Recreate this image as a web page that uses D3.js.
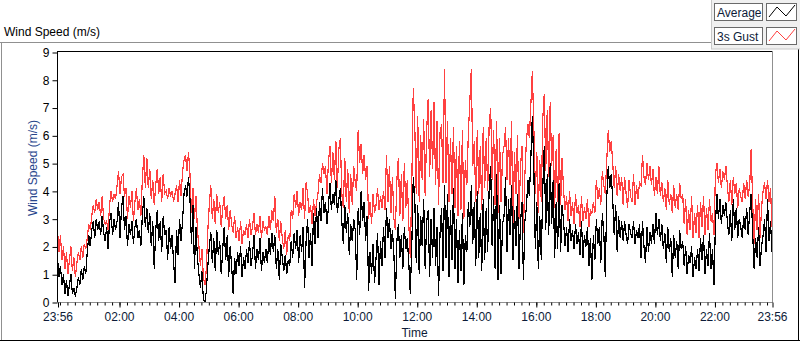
<!DOCTYPE html>
<html>
<head>
<meta charset="utf-8">
<script src="https://cdnjs.cloudflare.com/ajax/libs/d3/7.8.5/d3.min.js"></script>
<style>
body{margin:0;background:#ffffff;}
svg{display:block;font-family:"Liberation Sans",Arial,sans-serif;}
</style>
</head>
<body>
<div id="chart"></div>
<script>
// one reading every 3 minutes, starting 23:56 (one row = one hour)
var stepMinutes=3;

var average=[
1.6,0.9,1.3,0.6,1.0,0.3,0.8,0.2,0.6,1.0,0.3,0.5,0.2,0.5,0.9,0.6,1.2,0.8,1.3,1.0,
1.8,2.4,2.0,2.6,2.9,2.3,3.0,2.6,2.9,2.4,3.1,2.5,2.2,2.7,1.9,2.9,3.2,2.4,3.0,2.6,
2.9,3.6,2.3,3.4,3.8,2.6,3.1,2.0,2.8,2.4,2.9,2.1,2.7,3.0,2.3,2.6,2.0,3.1,3.8,2.7,
3.4,2.5,3.2,2.0,2.9,1.2,2.6,3.3,2.2,2.9,1.8,3.1,2.4,2.6,1.5,2.7,1.9,2.4,1.4,0.7,
2.6,1.7,3.0,2.2,2.9,3.9,4.2,3.8,4.5,3.7,2.1,3.5,1.2,2.7,1.6,1.0,0.5,1.1,0.1,0.0,
0.4,1.3,2.0,2.5,1.4,2.3,1.1,2.6,1.7,2.2,1.0,1.9,2.7,1.5,2.4,0.9,2.0,1.3,0.3,1.6,
1.0,1.8,1.3,2.0,0.9,1.6,1.2,1.9,1.4,2.2,1.3,1.7,2.4,1.2,1.9,1.5,2.3,1.1,1.8,1.4,
1.9,1.4,2.3,1.7,2.5,1.8,2.4,1.2,1.9,0.8,2.1,1.6,1.1,1.7,1.0,1.5,1.3,2.2,1.6,2.5,
1.9,2.6,1.4,2.4,1.8,2.7,0.5,2.2,3.0,1.6,2.5,1.3,3.2,2.1,3.4,2.3,3.6,2.9,4.1,3.2,
3.6,2.8,3.4,4.3,3.3,3.9,3.5,4.4,3.2,3.7,4.1,2.9,2.1,3.5,2.5,3.2,1.7,2.8,2.2,3.0,
2.6,0.8,3.4,2.4,4.0,2.9,3.6,2.2,3.1,0.4,1.8,1.0,2.1,0.7,1.6,2.5,0.6,2.2,1.3,2.7,
1.6,3.4,2.3,3.0,1.9,2.6,1.7,0.1,2.2,2.8,1.6,2.4,1.2,2.7,1.9,2.3,1.4,0.3,2.0,4.5,
3.8,1.4,3.5,1.0,3.1,2.0,3.7,1.2,2.9,3.3,0.9,3.0,1.6,3.4,1.3,2.7,0.2,2.5,3.4,1.1,
4.2,1.6,3.9,0.9,3.3,1.5,4.1,1.2,3.0,0.7,2.6,1.1,3.2,0.6,2.4,1.8,3.6,2.7,4.2,2.1,
3.6,1.3,4.0,1.6,3.2,1.1,3.7,1.5,3.4,1.8,4.1,4.9,2.0,3.8,1.2,4.6,0.8,3.5,1.0,2.8,
3.1,4.5,1.8,3.7,2.4,4.2,1.5,3.3,2.0,3.9,1.2,2.8,3.6,0.8,2.9,3.4,4.4,3.8,5.2,6.7,
4.8,1.9,3.6,1.2,3.1,1.5,4.1,5.6,2.6,4.6,2.4,5.0,2.8,4.4,1.6,3.6,1.9,4.3,1.8,3.5,
2.9,2.0,2.7,1.8,3.0,2.2,2.6,1.9,2.8,2.1,2.5,1.7,2.9,1.6,2.4,2.0,2.7,1.3,2.3,0.8,
2.4,1.5,3.0,2.1,2.7,1.4,3.2,2.5,0.9,3.8,4.9,4.1,4.6,3.7,2.4,3.5,1.8,3.1,2.3,2.9,
2.2,2.9,2.4,2.1,2.8,2.5,2.3,2.9,2.1,2.6,2.3,2.8,1.6,2.9,2.0,1.4,2.7,1.8,2.5,2.1,
2.8,2.1,3.2,2.4,3.0,2.2,2.8,1.9,2.5,1.4,2.7,1.8,2.3,0.9,2.4,1.6,2.2,1.2,2.6,1.9,
2.2,1.3,2.0,1.0,1.7,1.4,2.0,0.9,1.6,1.2,1.9,1.1,2.3,1.5,2.4,1.0,1.9,1.3,2.5,1.2,
1.9,0.6,2.8,3.9,3.0,3.7,2.8,3.5,3.1,3.6,2.9,2.4,3.3,2.2,3.7,2.6,3.4,2.3,3.0,2.7,
2.3,3.1,2.6,3.4,2.4,3.2,3.9,2.5,1.2,2.3,1.6,2.7,1.3,2.0,2.4,3.0,1.8,3.7,2.2,2.9,
1.8];

var gust=[
2.6,1.8,2.4,1.5,2.0,1.2,1.8,1.0,1.5,2.0,1.1,1.6,0.9,1.4,1.8,1.5,2.0,1.6,2.1,1.9,
2.3,2.8,2.6,3.1,3.5,3.2,3.7,3.3,3.6,3.1,3.8,3.0,2.8,2.9,2.6,3.5,4.0,3.6,3.9,3.7,
4.2,4.7,3.9,4.5,4.6,3.8,4.1,3.0,3.8,3.4,4.0,2.9,3.6,4.1,3.3,3.7,3.1,4.4,5.3,4.1,
5.2,4.1,4.8,3.7,4.4,3.5,4.2,4.8,3.9,4.5,3.6,4.6,3.9,4.0,3.7,4.1,3.8,4.0,3.6,3.9,
4.2,3.6,4.4,3.8,4.7,5.1,5.3,4.7,5.4,4.6,3.2,4.1,3.0,3.8,2.6,2.0,1.3,1.9,0.9,0.6,
1.2,2.6,3.5,4.2,3.0,3.7,2.8,3.9,3.2,3.6,2.7,3.4,3.8,3.0,3.5,2.6,3.3,2.8,2.5,3.1,
2.3,2.7,2.2,2.9,2.1,2.6,2.4,2.8,2.3,3.0,2.4,2.7,3.2,2.4,2.8,2.5,3.1,2.3,2.9,2.6,
2.7,2.4,3.1,2.6,3.3,2.9,3.8,2.5,3.0,2.2,2.9,2.3,1.9,2.6,1.7,2.4,2.2,3.3,3.0,3.9,
3.4,4.0,3.1,3.6,3.3,4.1,3.0,4.3,3.9,3.2,3.5,2.8,3.7,3.1,3.6,3.9,4.6,4.3,5.0,4.6,
4.9,3.9,5.0,5.6,4.3,5.4,4.4,5.8,4.1,5.5,5.9,3.9,3.4,5.2,3.6,4.8,3.2,4.6,3.5,4.9,
4.3,4.0,6.2,5.0,5.7,4.6,5.3,4.4,4.9,3.0,3.6,2.8,3.9,3.2,3.5,4.1,3.3,3.8,3.4,4.0,
3.3,5.3,3.6,4.9,3.2,4.5,3.0,2.6,4.4,5.2,3.1,4.6,2.9,5.0,3.4,4.4,2.8,1.6,4.2,7.7,
6.4,3.9,6.7,3.6,6.0,4.4,6.6,3.8,6.2,7.3,4.5,6.9,4.8,7.2,4.2,6.5,3.5,6.1,6.4,4.3,
8.4,4.3,6.5,3.6,5.9,3.9,6.3,3.4,5.6,3.1,5.8,3.3,6.2,3.0,5.1,4.2,6.1,7.2,8.4,4.9,
5.8,3.6,6.2,3.9,5.6,3.3,6.3,4.1,5.9,4.0,6.4,7.0,4.4,6.2,3.5,6.5,3.2,5.9,3.6,5.3,
5.6,6.3,4.4,5.9,4.2,6.5,2.6,5.4,3.9,6.0,3.0,4.8,5.6,2.5,4.6,5.8,6.4,5.9,7.1,8.3,
6.3,3.9,5.4,3.2,5.1,3.6,6.6,7.5,4.7,6.9,4.5,7.2,4.9,6.0,3.4,5.5,3.6,6.1,3.5,5.2,
4.0,3.3,3.8,2.9,4.0,3.1,3.6,2.8,3.9,3.2,3.5,2.7,3.8,2.9,3.4,3.0,3.7,2.7,3.3,3.2,
3.6,3.2,4.4,3.7,4.1,3.5,4.7,4.2,3.9,5.1,6.2,5.4,5.8,5.0,4.1,4.9,3.8,4.6,4.0,4.5,
3.5,4.5,3.9,3.4,4.4,3.8,3.6,4.6,3.5,4.2,3.7,4.3,4.2,5.3,4.5,4.2,5.0,4.4,4.9,4.2,
4.8,3.8,4.5,3.9,4.9,3.8,4.3,3.6,4.1,3.3,4.4,3.5,3.9,3.2,4.2,3.4,3.9,3.3,4.3,3.7,
3.9,2.8,3.7,2.4,3.3,2.6,3.8,2.3,3.2,2.5,3.5,2.3,3.6,2.7,3.8,2.4,3.4,2.6,3.7,2.9,
3.2,2.4,4.6,5.0,4.3,4.8,4.1,4.7,4.4,4.9,4.2,3.6,4.4,3.5,4.5,3.9,4.3,3.4,4.1,3.8,
3.6,4.3,3.7,4.4,3.8,4.2,5.5,3.6,2.1,3.7,2.6,3.9,2.3,3.4,4.0,4.3,3.7,4.4,3.6,4.1,
2.7];

var yTicks=[0,1,2,3,4,5,6,7,8,9];
var xTickLabels=["23:56","02:00","04:00","06:00","08:00","10:00","12:00","14:00","16:00","18:00","20:00","22:00","23:56"];
var seriesNames=["Average","3s Gust"];

var lineColors=["#000000","#ff4040"];
var textColor="#0d1b38";
var labelColor="#28468c";
var W=800,H=342;
var plot={left:57,right:772,top:52,bottom:302};

var start=new Date(2000,0,1,23,56);
var end=new Date(2000,0,2,23,56);

var x=d3.scaleTime().domain([start,end]).range([plot.left+0.5,plot.right]);
var y=d3.scaleLinear().domain([0,9]).range([plot.bottom,plot.top]);

function timeAt(i){
    return d3.timeMinute.offset(start,i*stepMinutes);
}
function labelTime(s,i){
    if (i==0) return start;
    if (i==xTickLabels.length-1) return end;
    var p=s.split(":");
    return new Date(2000,0,2,+p[0],+p[1]);
}

var svg=d3.select("#chart").append("svg").attr("width",W).attr("height",H);
svg.append("rect").attr("width",W).attr("height",H).style("fill","#ffffff");

//outer panel frame
svg.append("line").attr("x1",0).attr("y1",42.5).attr("x2",712).attr("y2",42.5).attr("style","stroke:#909090;stroke-width:1px");
svg.append("line").attr("x1",1.5).attr("y1",42).attr("x2",1.5).attr("y2",341).attr("style","stroke:#909090;stroke-width:1px");
svg.append("line").attr("x1",0).attr("y1",340.5).attr("x2",W).attr("y2",340.5).attr("style","stroke:#000;stroke-width:1px");
svg.append("line").attr("x1",798.5).attr("y1",49).attr("x2",798.5).attr("y2",341).attr("style","stroke:#000;stroke-width:1px");

svg.append("text").attr("x",4).attr("y",36).text("Wind Speed (m/s)")
    .style("font-size","12px").style("fill","#000");

//legend panel
var lg=svg.append("g").attr("class","legend");
lg.append("rect").attr("x",711.5).attr("y",-1).attr("width",90).attr("height",50)
    .attr("style","fill:#f0f0f0;stroke:#c8c8c8;stroke-width:1px");
seriesNames.forEach(function(name,i){
    var top=3+i*24;
    lg.append("rect").attr("x",714.5).attr("y",top+0.5).attr("width",48).attr("height",17)
        .attr("style","fill:#fff;stroke:#6a6a6a;stroke-width:1px");
    lg.append("text").attr("x",717).attr("y",top+14).text(name)
        .style("font-size","12px").style("fill",textColor);
    lg.append("rect").attr("x",766.5).attr("y",top+0.5).attr("width",30).attr("height",17)
        .attr("style","fill:#fff;stroke:#6a6a6a;stroke-width:1px");
    lg.append("path").attr("d","M769,"+(top+14)+"L777,"+(top+4)+"L786,"+(top+13)+"L795,"+(top+2))
        .attr("style","fill:none;stroke:"+lineColors[i]+";stroke-width:1px");
});

//plot frame
svg.append("defs").append("clipPath").attr("id","plot-clip")
    .append("rect").attr("x",plot.left).attr("y",plot.top).attr("width",plot.right-plot.left).attr("height",plot.bottom-plot.top+1);

var line=d3.line().x(function(d,i){return x(timeAt(i));}).y(function(d){return y(d);});
var g=svg.append("g").attr("clip-path","url(#plot-clip)");
g.append("path").datum(gust).attr("d",line).attr("shape-rendering","crispEdges")
    .attr("style","fill:none;stroke:"+lineColors[1]+";stroke-width:1.2px");
g.append("path").datum(average).attr("d",line).attr("shape-rendering","crispEdges")
    .attr("style","fill:none;stroke:"+lineColors[0]+";stroke-width:1.2px");

svg.append("line").attr("x1",plot.left).attr("y1",plot.top-0.5).attr("x2",plot.right).attr("y2",plot.top-0.5).attr("style","stroke:#000;stroke-width:1px");
svg.append("line").attr("x1",plot.left+0.5).attr("y1",plot.top-1).attr("x2",plot.left+0.5).attr("y2",plot.bottom+1).attr("style","stroke:#000;stroke-width:1px");
svg.append("line").attr("x1",plot.right+0.5).attr("y1",plot.top-1).attr("x2",plot.right+0.5).attr("y2",plot.bottom+1).attr("style","stroke:#909090;stroke-width:1px");
svg.append("line").attr("x1",plot.left).attr("y1",plot.bottom+0.5).attr("x2",plot.right+1).attr("y2",plot.bottom+0.5).attr("style","stroke:#909090;stroke-width:1px");

//Axises
var yAxis=svg.append("g").attr("transform","translate("+(plot.left+0.5)+",0.5)")
    .call(d3.axisLeft(y).tickValues(yTicks).tickSize(5).tickPadding(3).tickFormat(d3.format("d")));
yAxis.select(".domain").remove();
yAxis.selectAll("text").style("font-size","12px").style("fill","#000").style("font-family",null);

var minorTicks=d3.timeMinute.every(15).range(d3.timeMinute.offset(start,4),end);
var xMinor=svg.append("g").attr("transform","translate(0,"+(plot.bottom+0.5)+")")
    .call(d3.axisBottom(x).tickValues(minorTicks).tickSize(3).tickFormat(""));
xMinor.select(".domain").remove();

var majorTicks=xTickLabels.map(labelTime);
var xAxis=svg.append("g").attr("transform","translate(0,"+(plot.bottom+0.5)+")")
    .call(d3.axisBottom(x).tickValues(majorTicks).tickSize(5).tickPadding(5)
        .tickFormat(function(d,i){return xTickLabels[i];}));
xAxis.select(".domain").remove();
xAxis.selectAll("text").style("font-size","12px").style("fill",textColor).style("font-family",null);
svg.selectAll(".tick line").attr("transform","translate(0.5,0)");
yAxis.selectAll(".tick line").attr("transform",null);

svg.append("text").attr("x",(plot.left+plot.right)/2).attr("y",337).attr("text-anchor","middle")
    .text("Time").style("font-size","12px").style("fill",textColor);
svg.append("text").attr("transform","translate(37,168) rotate(-90)").attr("text-anchor","middle")
    .text("Wind Speed (m/s)").style("font-size","12px").style("fill",labelColor);
</script>
</body>
</html>
